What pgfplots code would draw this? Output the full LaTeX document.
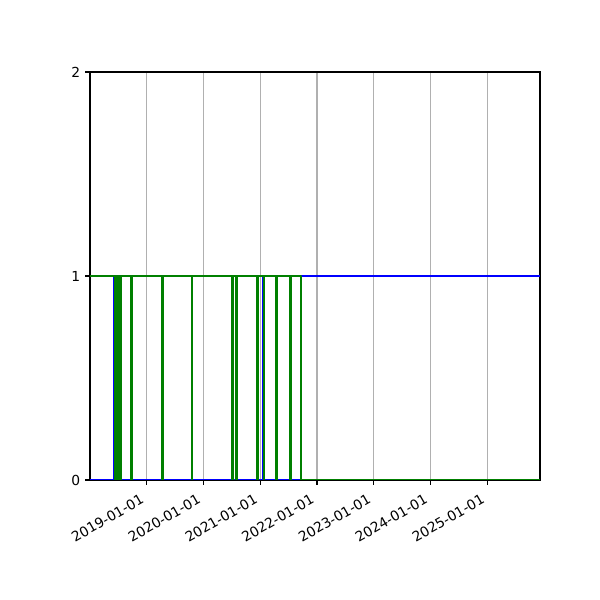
\documentclass[border=0pt]{standalone}
\usepackage{fontspec}
\setmainfont{DejaVu Sans}
\usepackage{pgfplots}
\pgfplotsset{compat=1.18}
\definecolor{mplblue}{rgb}{0,0,1}
\definecolor{mplgreen}{rgb}{0,0.5,0}
\definecolor{gridgray}{HTML}{B0B0B0}
\begin{document}
\begin{tikzpicture}
\path[use as bounding box] (-0.9in,-1.2in) rectangle (5.1in,4.8in);
\begin{axis}[
  at={(0,0)}, anchor=south west,
  scale only axis, width=4.5in, height=4.08in,
  xmin=0, xmax=2896, ymin=0, ymax=2,
  xtick={365,730,1096,1461,1826,2191,2557},
  xticklabels={2019-01-01,2020-01-01,2021-01-01,2022-01-01,2023-01-01,2024-01-01,2025-01-01},
  ytick={0,1,2},
  tick align=outside, xtick pos=bottom, ytick pos=left,
  major tick length=3.5pt,
  every tick/.style={black, line width=0.8pt},
  axis line style={line width=0.8pt},
  xmajorgrids, ymajorgrids=false,
  grid style={gridgray, line width=0.8pt},
  xticklabel style={font=\fontsize{10}{12}\selectfont, inner sep=0pt, xshift=-5pt, yshift=-6pt, rotate=30, anchor=north east},
  yticklabel style={font=\fontsize{10}{12}\selectfont},
  /pgf/number format/assume math mode=true,
]
\addplot[mplblue, line width=1.5pt, line join=round, mark=none] coordinates {
(0,0)(157,0)(157,1)(164,1)(164,0)(165,0)(165,1)(197,1)(197,0)
(263,0)(263,1)(268,1)(268,0)(462,0)(462,1)(467,1)(467,0)
(654,0)(654,1)(659,1)(659,0)(911,0)(911,1)(917,1)(917,0)(938,0)(938,1)(943,1)(943,0)
(1075,0)(1075,1)(1080,1)(1080,0)(1115,0)(1115,1)(1120,1)(1120,0)(1196,0)(1196,1)(1201,1)(1201,0)
(1288,0)(1288,1)(1293,1)(1293,0)(1360,0)(1360,1)(2896,1)
};
\addplot[mplgreen, line width=1.5pt, line join=round, mark=none] coordinates {
(0,1)(158,1)(158,0)(164,0)(164,1)(170,1)(170,0)(176,0)(176,1)(182,1)(182,0)(188,0)(188,1)(191,1)(191,0)(197,0)(197,1)
(265,1)(265,0)(268,0)(268,1)(464,1)(464,0)(467,0)(467,1)
(656,1)(656,0)(659,0)(659,1)(914,1)(914,0)(917,0)(917,1)(940,1)(940,0)(943,0)(943,1)
(1077,1)(1077,0)(1080,0)(1080,1)(1117,1)(1117,0)(1120,0)(1120,1)(1198,1)(1198,0)(1201,0)(1201,1)
(1290,1)(1290,0)(1293,0)(1293,1)(1360,1)(1360,0)(2896,0)
};
\end{axis}
\end{tikzpicture}
\end{document}
